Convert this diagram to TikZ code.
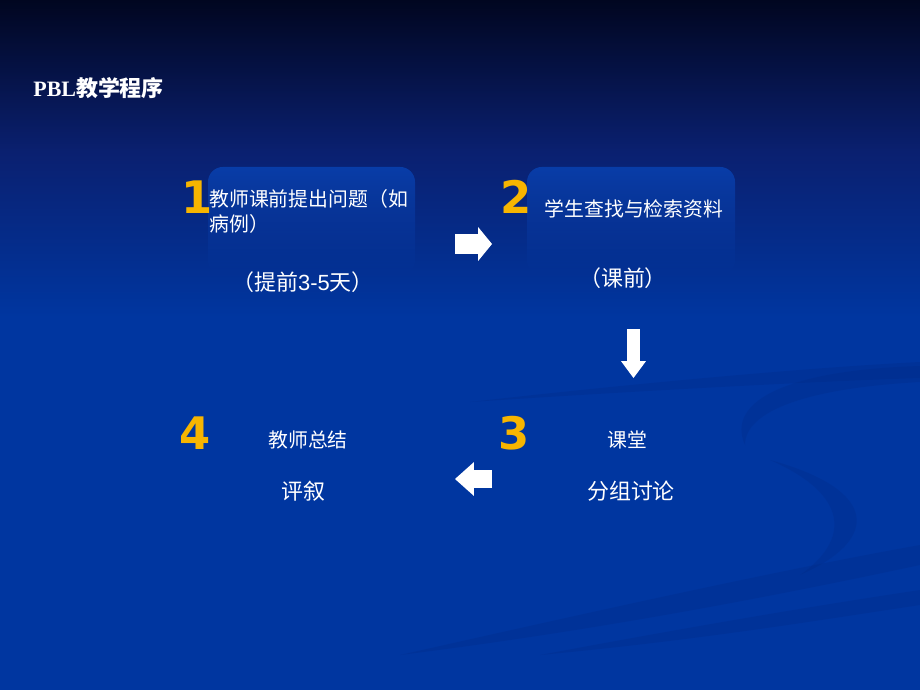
\documentclass[tikz,border=0pt]{standalone}
\usepackage{fontspec}
\setmainfont{Liberation Serif}
\newfontfamily\cjk{Noto Sans CJK SC}
\newfontfamily\numfont{DejaVu Sans}
\newfontfamily\arial{Liberation Sans}
\usetikzlibrary{arrows.meta,fadings}
\definecolor{bgtop}{HTML}{010620}
\definecolor{bgmid}{HTML}{0A2070}
\definecolor{bgmain}{HTML}{0036A0}
\definecolor{boxblue}{HTML}{083DA8}
\definecolor{swoosh}{HTML}{00267A}
\definecolor{gold}{HTML}{F7B500}
\pgfdeclareverticalshading{slidebg}{100bp}{color(0bp)=(bgmain); color(52bp)=(bgmain); color(64bp)=(bgmid); color(75bp)=(bgtop); color(100bp)=(bgtop)}
\tikzfading[name=boxfade, top color=transparent!0, middle color=transparent!20, bottom color=transparent!100]
\def\firstbox{(208,167) rectangle (415,275)}
\def\secondbox{(527,167) rectangle (735,275)}

\begin{document}
\begin{tikzpicture}[x=0.02cm,y=-0.02cm,
    num/.style={text=gold,inner sep=0pt,font=\numfont\bfseries\fontsize{25.5}{26}\selectfont},
    txt/.style={text=white,inner sep=0pt,font=\cjk\fontsize{11.3}{14.2}\selectfont},
    bigtxt/.style={text=white,inner sep=0pt,font=\cjk\fontsize{12.5}{15}\selectfont}]
    \useasboundingbox (0,0) rectangle (920,690);
    \fill[shading=slidebg] (0,0) rectangle (920,690);
    \fill[swoosh,opacity=.2] (470,402) .. controls (620,385) and (800,368) .. (920,362) -- (920,378) .. controls (800,382) and (620,392) .. cycle;
    \fill[swoosh,opacity=.2] (920,366) .. controls (790,370) and (725,400) .. (745,445) .. controls (745,410) and (810,388) .. (920,382) -- cycle;
    \fill[swoosh,opacity=.2] (770,460) .. controls (880,490) and (880,540) .. (800,575) .. controls (850,540) and (850,495) .. cycle;
    \fill[swoosh,opacity=.2] (400,655) .. controls (600,610) and (780,570) .. (920,545) -- (920,565) .. controls (780,595) and (600,630) .. cycle;
    \fill[swoosh,opacity=.2] (540,655) .. controls (700,625) and (820,605) .. (920,590) -- (920,605) .. controls (820,620) and (700,640) .. cycle;
    \fill[boxblue,rounded corners=8.5pt,path fading=boxfade] \firstbox;
    \fill[boxblue,rounded corners=8.5pt,path fading=boxfade] \secondbox;

    \node[anchor=west,text=white,inner sep=0pt,font=\bfseries\fontsize{12.5}{14}\selectfont] (title) at (33,88) {PBL{\cjk 教学程序}};

    \node[num,anchor=base west] (one) at (181,213) {1};
    \node[txt,anchor=west,align=left] (ask) at (209,211) {教师课前提出问题（如\\病例）};
    \node[bigtxt] (askdays) at (303,282) {（提前{\arial 3-5}天）};

    \node[num,anchor=base west] (two) at (500,213) {2};
    \node[txt] (search) at (634,209) {学生查找与检索资料};
    \node[bigtxt] (before) at (623,278) {（课前）};

    \node[num,anchor=base west] (three) at (498,449) {3};
    \node[txt] (class) at (627,440) {课堂};
    \node[bigtxt] (discuss) at (631,491) {分组讨论};

    \node[num,anchor=base west] (four) at (179,449) {4};
    \node[txt] (sum) at (308,440) {教师总结};
    \node[bigtxt] (review) at (303,491) {评叙};

    \coordinate (ra) at (455,244);
    \coordinate (rb) at (492,244);
    \coordinate (da) at (633.5,329);
    \coordinate (db) at (633.5,378);
    \coordinate (la) at (492,479);
    \coordinate (lb) at (455,479);
    \draw[white,line width=11.9pt,-{Triangle[length=7.9pt,width=19.3pt,line width=0pt]}] (ra) -- (rb);
    \draw[white,line width=7.4pt,-{Triangle[length=9.6pt,width=14.2pt,line width=0pt]}] (da) -- (db);
    \draw[white,line width=10.2pt,-{Triangle[length=10.8pt,width=19.3pt,line width=0pt]}] (la) -- (lb);
\end{tikzpicture}
\end{document}
